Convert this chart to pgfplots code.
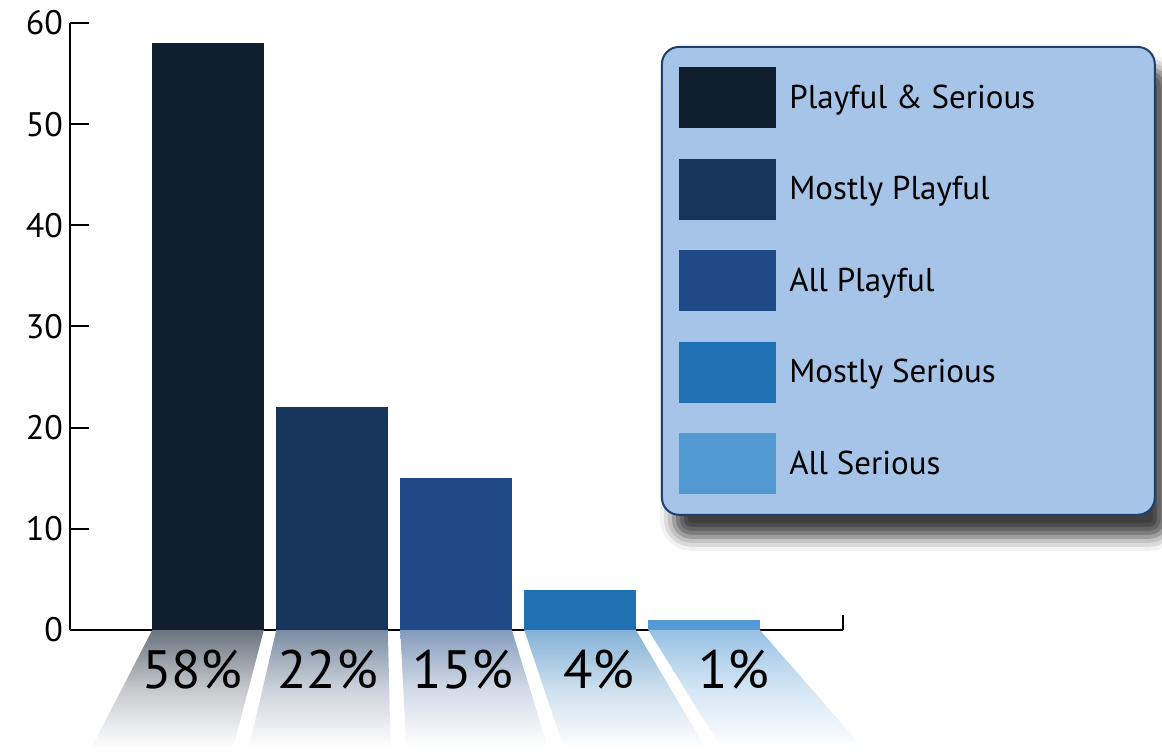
\documentclass[border=0pt]{standalone}
\usepackage{pgfplots}
\pgfplotsset{compat=1.18}
\usepackage{fontspec}
\setmainfont{PT Sans}
\usetikzlibrary{shadows.blur}

\definecolor{c1}{HTML}{0F1F30}
\definecolor{c2}{HTML}{17355A}
\definecolor{c3}{HTML}{1F4A87}
\definecolor{c4}{HTML}{1F71B3}
\definecolor{c5}{HTML}{5399D3}
\definecolor{legfill}{HTML}{A5C4E7}
\definecolor{legdraw}{HTML}{1F3F6E}

\pgfdeclarelayer{background}
\pgfsetlayers{background,main}

\pgfplotsset{
  swatch/.style={legend image code/.code={\fill[##1] (0pt,-15.25pt) rectangle (48.5pt,15.25pt);}},
}

\begin{document}
\begin{tikzpicture}
\begin{axis}[
  scale only axis, width=386.5pt, height=303.5pt,
  xmin=-1.113, xmax=5.12, ymin=0, ymax=60,
  axis x line=bottom, axis y line=left,
  axis line style={-, line width=1pt, black},
  xtick=\empty,
  extra x ticks={5.12}, extra x tick labels={},
  extra x tick style={major tick length=7.5pt},
  ytick={0,10,...,60},
  tick align=inside, major tick length=9.5pt,
  tick style={line width=1pt, black},
  yticklabel style={font=\fontsize{17}{20}\selectfont},
  /pgf/number format/assume math mode=true,
  clip=false,
  bar width=0.9,
  legend style={at={(axis description cs:0.7658,0.9605)}, anchor=north west,
    fill=none, draw=none, name=leg,
    inner xsep=8.5pt, inner ysep=10pt, row sep=15.25pt, column sep=4.5pt,
    font=\fontsize{16.5}{19}\selectfont},
  legend cell align=left,
]
% reflections under the bars
\addplot[forget plot, draw=none, top color=c1!62!white, bottom color=white, middle color=c1!24!white] coordinates {(-0.45,0) (0.45,0) (0.202,-11.67) (-0.941,-11.67)};
\addplot[forget plot, draw=none, top color=c2!57!white, bottom color=white, middle color=c2!22!white] coordinates {(0.55,0) (1.45,0) (1.472,-11.67) (0.329,-11.67)};
\addplot[forget plot, draw=none, top color=c3!55!white, bottom color=white, middle color=c3!20!white] coordinates {(1.55,0) (2.45,0) (2.742,-11.67) (1.599,-11.67)};
\addplot[forget plot, draw=none, top color=c4!55!white, bottom color=white, middle color=c4!22!white] coordinates {(2.55,0) (3.45,0) (4.012,-11.67) (2.869,-11.67)};
\addplot[forget plot, draw=none, top color=c5!60!white, bottom color=white, middle color=c5!25!white] coordinates {(3.55,0) (4.45,0) (5.282,-11.67) (4.139,-11.67)};

\addplot[ybar, bar shift=0pt, fill=c1, draw=none, swatch] coordinates {(0,58)};
\addlegendentry{\makebox[172pt][l]{Playful \& Serious}}
\addplot[ybar, bar shift=0pt, fill=c2, draw=none, swatch] coordinates {(1,22)};
\addlegendentry{Mostly Playful}
\addplot[ybar, bar shift=0pt, fill=c3, draw=none, swatch] coordinates {(2,15)};
\addlegendentry{All Playful}
\addplot[ybar, bar shift=0pt, fill=c4, draw=none, swatch] coordinates {(3,4)};
\addlegendentry{Mostly Serious}
\addplot[ybar, bar shift=0pt, fill=c5, draw=none, swatch] coordinates {(4,1)};
\addlegendentry{All Serious}

\begin{scope}[font=\fontsize{27}{31}\selectfont]
\node at (axis cs:-0.126,-3.96) {58\%};
\node at (axis cs:0.966,-3.96) {22\%};
\node at (axis cs:2.058,-3.96) {15\%};
\node at (axis cs:3.15,-3.96) {4\%};
\node at (axis cs:4.24,-3.96) {1\%};
\end{scope}
\end{axis}
\begin{pgfonlayer}{background}
\draw[fill=legfill, draw=legdraw, line width=1pt, rounded corners=8.5pt,
  blur shadow={shadow xshift=6pt, shadow yshift=-11pt, shadow blur radius=7pt, shadow opacity=75}]
  (leg.south west) rectangle (leg.north east);
\end{pgfonlayer}
\pgfresetboundingbox
\path (current axis.south west) ++(-35pt,-61.5pt) rectangle ++(581pt,376.5pt);
\end{tikzpicture}
\end{document}
